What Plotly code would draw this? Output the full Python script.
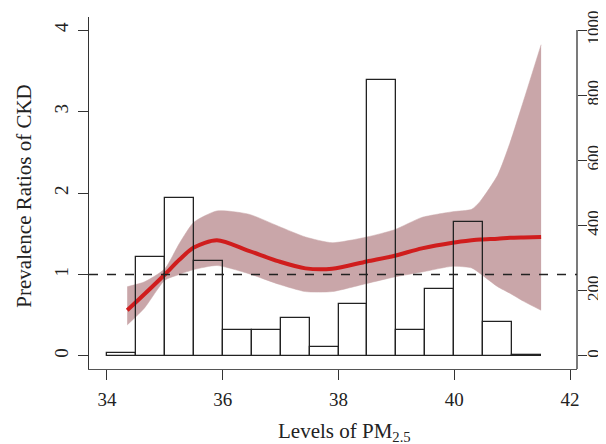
import plotly.graph_objects as go

# Histogram of PM2.5 levels (counts, right axis)
bin_centers = [34.25, 34.75, 35.25, 35.75, 36.25, 36.75, 37.25, 37.75,
               38.25, 38.75, 39.25, 39.75, 40.25, 40.75, 41.25]
bin_counts = [9, 303, 485, 291, 81, 81, 117, 28, 160, 848, 81, 207, 410, 104, 3]
bin_width = 0.5

# Smoothed prevalence ratio curve with confidence band (left axis)
curve_x = [34.35, 34.65, 35.0, 35.25, 35.5, 35.9, 36.45, 36.97, 37.43, 37.89,
           38.49, 38.97, 39.44, 39.97, 40.3, 40.45, 40.75, 40.96, 41.2, 41.5]
curve_pr = [0.56, 0.76, 1.0, 1.18, 1.33, 1.42, 1.29, 1.16, 1.075, 1.07,
            1.16, 1.23, 1.32, 1.39, 1.42, 1.43, 1.44, 1.45, 1.455, 1.46]
curve_upper = [0.85, 0.91, 1.07, 1.38, 1.64, 1.78, 1.74, 1.59, 1.46, 1.39,
               1.46, 1.55, 1.70, 1.77, 1.80, 1.90, 2.22, 2.61, 3.14, 3.82]
curve_lower = [0.38, 0.59, 0.93, 1.00, 1.06, 1.11, 1.01, 0.88, 0.79, 0.79,
               0.89, 0.97, 1.03, 1.10, 1.08, 1.01, 0.85, 0.77, 0.67, 0.56]

x_ticks = [34, 36, 38, 40, 42]
y_ticks = [0, 1, 2, 3, 4]
y2_ticks = [0, 200, 400, 600, 800, 1000]
ref_pr = 1

FONT = "Liberation Serif"
BAND = "#C9A6A9"

fig = go.Figure()

# confidence band (lower edge, then upper filled to it)
fig.add_trace(go.Scatter(
    x=curve_x, y=curve_lower, mode="lines",
    line=dict(color=BAND, width=0.5, shape="spline", smoothing=0.6),
    hoverinfo="skip", showlegend=False, yaxis="y"))
fig.add_trace(go.Scatter(
    x=curve_x, y=curve_upper, mode="lines", fill="tonexty", fillcolor=BAND,
    line=dict(color=BAND, width=0.5, shape="spline", smoothing=0.6),
    hoverinfo="skip", showlegend=False, yaxis="y"))

# main curve
fig.add_trace(go.Scatter(
    x=curve_x, y=curve_pr, mode="lines",
    line=dict(color="#D01D1D", width=4, shape="spline", smoothing=0.8),
    showlegend=False, yaxis="y"))

# histogram bars (outlines)
fig.add_trace(go.Bar(
    x=bin_centers, y=bin_counts, width=bin_width,
    marker=dict(color="rgba(0,0,0,0)", line=dict(color="#222222", width=1.3)),
    showlegend=False, yaxis="y2"))

fig.update_layout(
    width=598, height=436,
    margin=dict(l=81, r=29, t=9, b=75),
    paper_bgcolor="white", plot_bgcolor="white",
    font=dict(family=FONT, size=18, color="#222222"),
    bargap=0,
    xaxis=dict(
        range=[33.69, 42.12], tickvals=x_ticks, ticks="outside", ticklen=10,
        tickwidth=1, tickcolor="#333333", automargin=False,
        showgrid=False, zeroline=False, showline=True, linecolor="#555555",
        linewidth=1.3, tickfont=dict(family=FONT, size=19), ticklabelstandoff=3),
    yaxis=dict(
        range=[-0.16, 4.16], tickvals=y_ticks, ticks="outside", ticklen=10,
        tickwidth=1, tickcolor="#333333", tickangle=-90, automargin=False,
        showgrid=False, zeroline=False, showline=True, linecolor="#333333",
        linewidth=1.3, tickfont=dict(family=FONT, size=19), ticklabelstandoff=2),
    yaxis2=dict(
        range=[-40, 1040], tickvals=y2_ticks, overlaying="y", side="right",
        ticks="outside", ticklen=9, tickwidth=1, tickcolor="#333333",
        tickangle=-90, showgrid=False, zeroline=False, showline=False,
        automargin=False, tickfont=dict(family=FONT, size=17), ticklabelstandoff=-8),
    shapes=[
        dict(type="line", xref="paper", x0=0, x1=1, yref="y", y0=ref_pr, y1=ref_pr,
             line=dict(color="#222222", width=1.3, dash="dash"), layer="above"),
        dict(type="line", xref="paper", x0=1, x1=1, yref="y2", y0=-40, y1=1000,
             line=dict(color="#333333", width=1.3), layer="above"),
    ],
    annotations=[
        dict(text="Levels of PM<sub>2.5</sub>", xref="x", x=38.1, yref="paper", y=-0.18,
             yanchor="middle", xanchor="center", showarrow=False,
             font=dict(family=FONT, size=21)),
        dict(text="Prevalence Ratios of CKD", xref="paper", x=-0.135, yref="paper", y=0.49,
             textangle=-90, xanchor="center", yanchor="middle", showarrow=False,
             font=dict(family=FONT, size=21)),
    ],
)

fig.write_html("out.html")
